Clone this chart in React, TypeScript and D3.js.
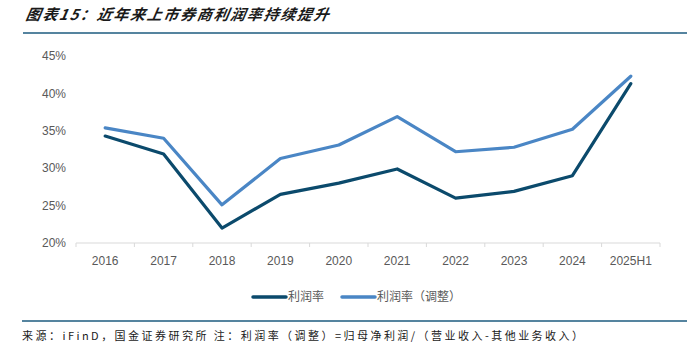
import React from "react";
import * as d3 from "d3";

const categories = ["2016", "2017", "2018", "2019", "2020", "2021", "2022", "2023", "2024", "2025H1"];
const profitMargin = [34.3, 31.9, 22.0, 26.5, 28.0, 29.9, 26.0, 26.9, 29.0, 41.3];
const profitMarginAdj = [35.4, 34.0, 25.1, 31.3, 33.1, 36.9, 32.2, 32.8, 35.2, 42.3];
const yTicks = [20, 25, 30, 35, 40, 45];

const W = 698;
const H = 353;
const FONT = "'Liberation Sans', Arial, sans-serif";
const CJK = "'Noto Sans CJK SC', 'Noto Sans', sans-serif";

export default function App() {
  const x = d3.scaleBand<string>().domain(categories).range([76, 660]);
  const y = d3.scaleLinear().domain([20, 45]).range([243, 56]);
  const line = d3
    .line<number>()
    .x((_, i) => (x(categories[i]) as number) + x.bandwidth() / 2)
    .y((d) => y(d));

  const series = [
    { name: "利润率", values: profitMargin, color: "#0b4a6c" },
    { name: "利润率（调整）", values: profitMarginAdj, color: "#4a86c5" },
  ];

  const tickPositions = categories.map((c) => x(c) as number).concat([660]);

  return (
    <svg
      width={W}
      height={H}
      style={{ position: "absolute", left: 0, top: 0, background: "#fff" }}
    >
      {/* Title */}
      <text
        x={25}
        y={20}
        fontFamily={CJK}
        fontSize={15}
        fontStyle="italic"
        fontWeight="bold"
        fill="#1a1a1a"
        textLength={303}
        lengthAdjust="spacing"
        style={{ transform: "skewX(-10deg)", transformOrigin: "25px 20px" }}
      >
        图表15：近年来上市券商利润率持续提升
      </text>
      <line x1={23} x2={687} y1={33} y2={33} stroke="#55849f" strokeWidth={2} />

      {/* Y axis labels */}
      {yTicks.map((t) => (
        <text
          key={t}
          x={66}
          y={y(t)}
          dy="0.35em"
          textAnchor="end"
          fontFamily={FONT}
          fontSize={12}
          fill="#595959"
        >
          {t}%
        </text>
      ))}

      {/* X axis */}
      <line x1={76} x2={660} y1={243} y2={243} stroke="#d9d9d9" strokeWidth={1} />
      {tickPositions.map((p, i) => (
        <line key={i} x1={p} x2={p} y1={243} y2={247} stroke="#d9d9d9" strokeWidth={1} />
      ))}
      {categories.map((c) => (
        <text
          key={c}
          x={(x(c) as number) + x.bandwidth() / 2}
          y={261}
          dy="0.35em"
          textAnchor="middle"
          fontFamily={FONT}
          fontSize={12}
          fill="#595959"
        >
          {c}
        </text>
      ))}

      {/* Lines */}
      {series.map((s) => (
        <path
          key={s.name}
          d={line(s.values) as string}
          fill="none"
          stroke={s.color}
          strokeWidth={3.2}
          strokeLinejoin="round"
          strokeLinecap="round"
        />
      ))}

      {/* Legend */}
      <line x1={253} x2={286} y1={297} y2={297} stroke={series[0].color} strokeWidth={3.5} strokeLinecap="round" />
      <text x={288} y={297} dy="0.35em" fontFamily={CJK} fontSize={12} fill="#595959">
        {series[0].name}
      </text>
      <line x1={342} x2={375} y1={297} y2={297} stroke={series[1].color} strokeWidth={3.5} strokeLinecap="round" />
      <text x={377} y={297} dy="0.35em" fontFamily={CJK} fontSize={12} fill="#595959">
        利润率
        <tspan>（</tspan>
        <tspan>调整</tspan>
        <tspan>）</tspan>
      </text>

      {/* Footer */}
      <line x1={22} x2={687} y1={321} y2={321} stroke="#55849f" strokeWidth={2} />
      <text
        x={22}
        y={336}
        dy="0.35em"
        fontFamily={CJK}
        fontSize={11}
        fill="#1a1a1a"
        textLength={561}
        lengthAdjust="spacing"
      >
        来源：iFinD，国金证券研究所 注：利润率（调整）=归母净利润/（营业收入-其他业务收入）
      </text>
    </svg>
  );
}
